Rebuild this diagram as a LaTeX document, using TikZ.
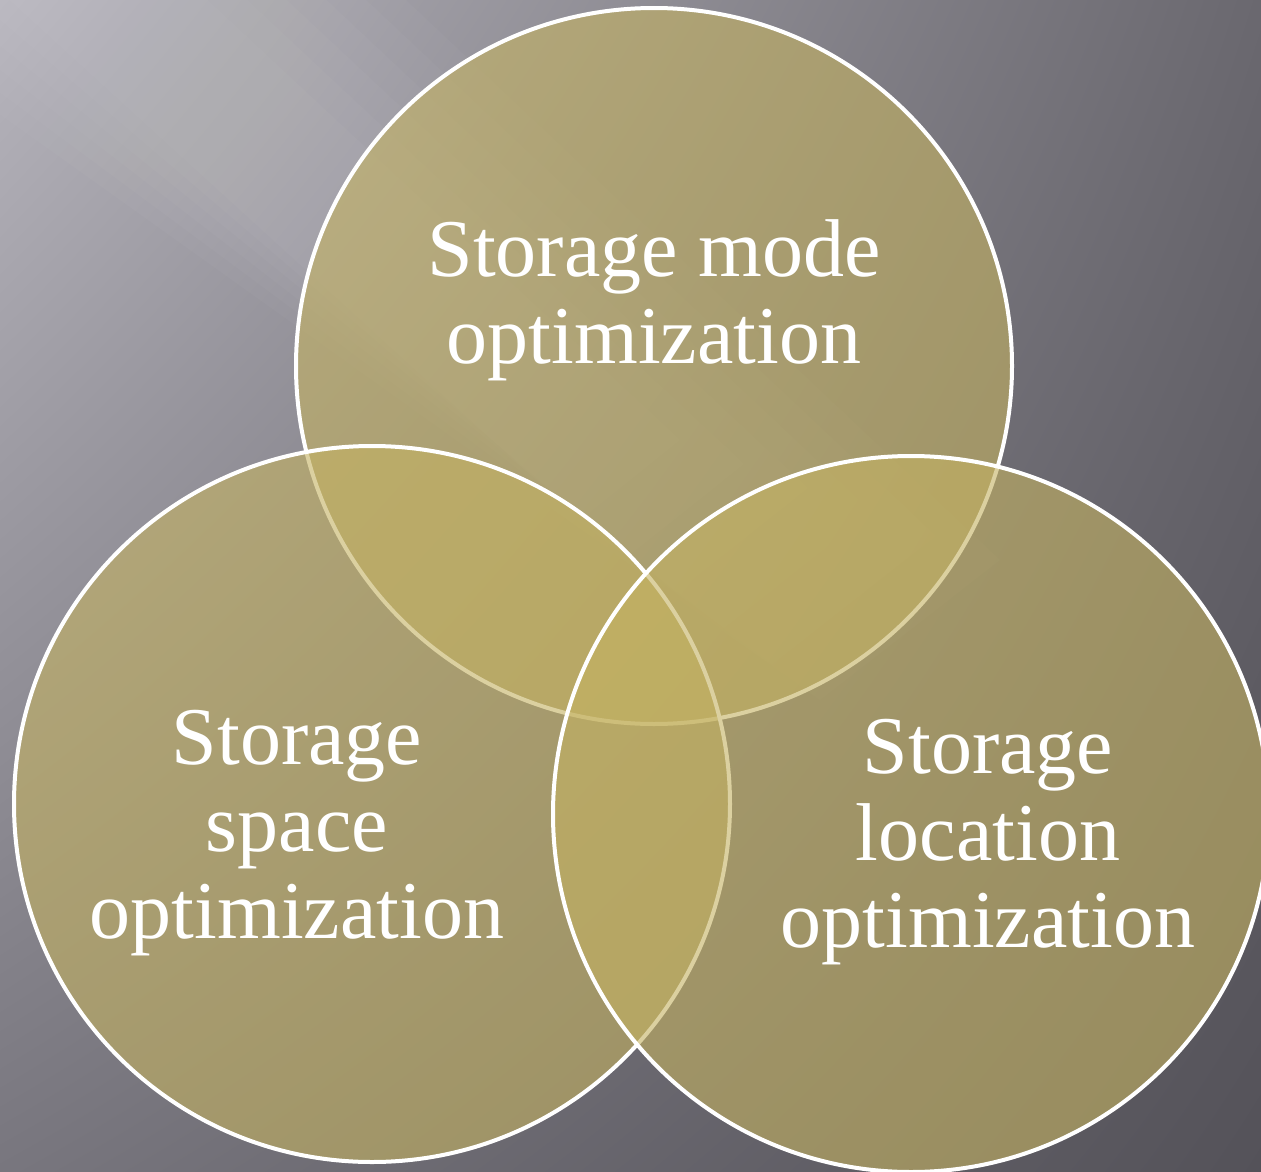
\documentclass[tikz,border=0pt]{standalone}
\usepackage{fontspec}
\setmainfont{Liberation Serif}
\usetikzlibrary{shadings}
\definecolor{bgTL}{RGB}{182,180,188}
\definecolor{bgTR}{RGB}{106,104,111}
\definecolor{bgBL}{RGB}{120,118,126}
\definecolor{bgBR}{RGB}{84,82,89}
\definecolor{vennfill}{RGB}{196,178,98}
\tikzset{
  venn/.style={circle, draw=white, line width=4pt, fill=vennfill, fill opacity=0.6, draw opacity=1, minimum size=716pt, inner sep=0pt},
  vlabel/.style={text=white, align=center, font=\fontsize{82}{87}\selectfont, inner sep=0pt},
  streak/.style={white, opacity=0.022}
}
\begin{document}
\begin{tikzpicture}[x=1pt,y=-1pt]
\useasboundingbox (0,0) rectangle (1261,1172);
\shade[upper left=bgTL, upper right=bgTR, lower left=bgBL, lower right=bgBR] (0,0) rectangle (1261,1172);
% soft diagonal light streak
\begin{scope}
\clip (0,0) rectangle (1261,1172);
\foreach \w in {0,40,80,120,160,200} {
  \fill[streak] (-300+\w,-100) -- (300-\w,-100) -- (1000-\w*1.6,560-\w*0.6) -- (820-\w*1.2,700-\w*0.9) -- cycle;
}
\end{scope}
\node[venn] (top) at (654,366) {};
\node[venn] (left) at (372,804) {};
\node[venn] (right) at (911,814) {};
\node[vlabel] (ltop) at (654,300) {Storage mode\\optimization};
\node[vlabel] (lleft) at (297,833) {Storage\\space\\optimization};
\node[vlabel] (lright) at (988,842) {Storage\\location\\optimization};
\end{tikzpicture}
\end{document}
